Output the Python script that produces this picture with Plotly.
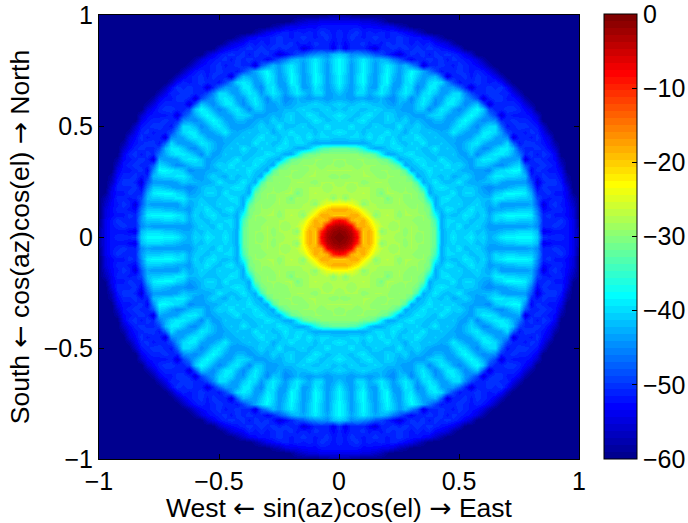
import numpy as np
import plotly.graph_objects as go

# Pattern level in dB at steps of 0.025 in both axes.
# Row i holds x = i*0.025, entries j <= i hold y = j*0.025 (the picture is mirror-symmetric).
# Cells past the end of a row lie outside the disc and take the background level.
background_level = -60
pattern_rows = [
[0],
[-1,-2],
[-3,-4,-7],
[-8,-10,-18,-20],
[-20,-20,-18,-18,-22],
[-18,-18,-20,-22,-25,-28],
[-23,-23,-24,-26,-30,-28,-28],
[-27,-30,-27,-28,-28,-28,-29,-28],
[-28,-28,-28,-28,-27,-28,-29,-31,-28],
[-28,-28,-29,-28,-28,-28,-29,-29,-28,-30],
[-29,-28,-28,-28,-30,-29,-28,-28,-29,-30,-29],
[-29,-30,-29,-29,-28,-28,-29,-30,-29,-29,-30,-30],
[-28,-28,-28,-29,-28,-29,-30,-29,-29,-30,-30,-33,-43],
[-30,-29,-29,-30,-29,-29,-29,-30,-30,-31,-34,-43,-42,-41],
[-29,-29,-30,-29,-29,-30,-30,-31,-32,-37,-43,-42,-41,-39,-40],
[-30,-30,-30,-30,-31,-31,-33,-38,-43,-43,-41,-40,-39,-41,-41,-42],
[-32,-32,-33,-34,-37,-41,-43,-43,-41,-40,-39,-41,-41,-40,-42,-41,-39],
[-43,-43,-43,-43,-43,-42,-40,-40,-41,-39,-41,-42,-40,-41,-39,-42,-42,-41],
[-41,-41,-40,-40,-41,-39,-41,-39,-41,-40,-42,-40,-41,-39,-41,-42,-41,-42,-43],
[-39,-40,-41,-40,-42,-40,-41,-41,-39,-41,-41,-43,-40,-41,-42,-41,-42,-43,-42,-39],
[-41,-41,-39,-41,-41,-42,-40,-41,-42,-42,-39,-42,-42,-40,-42,-43,-44,-44,-44,-41,-39],
[-40,-41,-42,-40,-39,-41,-42,-42,-40,-41,-42,-40,-43,-42,-43,-44,-42,-42,-44,-43,-40,-38],
[-39,-40,-41,-42,-40,-39,-41,-42,-40,-41,-43,-42,-43,-44,-44,-41,-40,-40,-43,-44,-43,-40,-38],
[-41,-42,-40,-41,-42,-41,-40,-41,-42,-42,-43,-44,-44,-41,-41,-45,-42,-39,-40,-43,-45,-43,-40,-38],
[-40,-41,-42,-41,-40,-41,-42,-42,-43,-44,-42,-44,-44,-41,-39,-42,-45,-42,-39,-39,-42,-45,-43,-41,-48],
[-43,-43,-44,-43,-43,-44,-43,-42,-44,-45,-42,-41,-45,-42,-39,-40,-44,-44,-40,-39,-40,-44,-46,-49,-55,-51],
[-41,-43,-44,-40,-40,-43,-41,-39,-41,-44,-41,-39,-41,-44,-40,-39,-41,-44,-43,-40,-40,-45,-49,-51,-51,-50,-50],
[-39,-42,-44,-41,-39,-43,-44,-39,-40,-44,-43,-39,-40,-45,-43,-39,-39,-43,-44,-44,-47,-51,-55,-51,-51,-50,-51,-50],
[-38,-41,-44,-40,-38,-42,-44,-40,-38,-43,-44,-40,-39,-43,-44,-40,-39,-40,-45,-49,-52,-51,-51,-50,-51,-52,-51,-53,-57],
[-38,-41,-44,-40,-38,-42,-44,-40,-38,-42,-44,-40,-38,-41,-44,-43,-42,-47,-55,-51,-51,-50,-52,-50,-51,-52,-54,-57],
[-38,-40,-44,-41,-38,-41,-44,-41,-38,-41,-44,-41,-38,-40,-43,-46,-49,-52,-51,-51,-50,-51,-52,-51,-52,-54,-57],
[-38,-40,-44,-41,-38,-41,-44,-41,-39,-41,-44,-42,-45,-48,-55,-51,-51,-50,-51,-52,-50,-51,-52,-53,-55,-58],
[-38,-40,-43,-41,-39,-41,-43,-42,-43,-46,-48,-51,-53,-51,-51,-50,-51,-50,-52,-50,-51,-52,-53,-55,-58],
[-41,-42,-45,-44,-45,-46,-48,-49,-51,-53,-55,-52,-50,-51,-50,-52,-50,-51,-50,-51,-52,-54,-56],
[-50,-54,-51,-51,-51,-53,-55,-51,-51,-50,-51,-50,-51,-50,-51,-50,-51,-52,-53,-54,-56],
[-51,-53,-51,-51,-50,-52,-51,-52,-50,-51,-50,-51,-52,-51,-52,-51,-53,-54,-55,-58],
[-51,-52,-50,-51,-52,-51,-50,-51,-52,-51,-50,-51,-52,-52,-53,-54,-56,-58],
[-51,-52,-51,-50,-52,-51,-52,-51,-52,-51,-52,-53,-54,-56,-58],
[-52,-52,-52,-52,-53,-53,-53,-54,-54,-55,-57,-58],
[-54,-54,-54,-54,-55,-55,-56,-57,-59],
[-58,-58,-59],
]
axis_ticks = [-1, -0.5, 0, 0.5, 1]
axis_labels = ["\u22121", "\u22120.5", "0", "0.5", "1"]
bar_ticks = [-60, -50, -40, -30, -20, -10, 0]
bar_labels = ["\u221260", "\u221250", "\u221240", "\u221230", "\u221220", "\u221210", "0"]
x_title = "West <span style='font-family:DejaVu Sans'>\u2190</span> sin(az)cos(el) <span style='font-family:DejaVu Sans'>\u2192</span> East"
y_title = "South <span style='font-family:DejaVu Sans'>\u2190</span> cos(az)cos(el) <span style='font-family:DejaVu Sans'>\u2192</span> North"

n = len(pattern_rows)
quadrant = np.full((n, n), float(background_level))
for i, row in enumerate(pattern_rows):
    for j, v in enumerate(row):
        quadrant[i, j] = v
        quadrant[j, i] = v
z = np.vstack([quadrant[:0:-1], quadrant])
z = np.hstack([z[:, :0:-1], z])
coords = [k * 0.025 for k in range(-(n - 1), n)]


def jet(t):
    def f(c):
        return int(round(255 * min(1.0, max(0.0, 1.5 - abs(4 * t - c)))))
    return f"rgb({f(3)},{f(2)},{f(1)})"


levels = 64
colorscale = []
for k in range(levels):
    col = jet((k + 1) / levels)
    colorscale.append([k / levels, col])
    colorscale.append([(k + 1) / levels, col])

W, H = 688, 523
FONT = "Liberation Sans"
fig = go.Figure(go.Heatmap(
    x=coords, y=coords, z=z, zmin=-60, zmax=0, zsmooth="best",
    colorscale=colorscale,
    colorbar=dict(
        x=604 / W, xanchor="left", xpad=0, ypad=0, thickness=33,
        y=1 - 459 / H, yanchor="bottom", lenmode="fraction", len=445 / H,
        tickmode="array", tickvals=bar_ticks, ticktext=bar_labels,
        ticks="inside", ticklen=5, tickcolor="black", tickwidth=1,
        outlinecolor="black", outlinewidth=1, ticklabeloverflow="allow",
        tickfont=dict(family=FONT, size=25, color="black"),
    ),
))
axis = dict(
    range=[-1, 1], tickmode="array", tickvals=axis_ticks, ticktext=axis_labels,
    ticks="inside", ticklen=5, tickcolor="black", tickwidth=1,
    showline=True, linecolor="black", linewidth=1, mirror="allticks",
    showgrid=False, zeroline=False,
    tickfont=dict(family=FONT, size=25, color="black"),
)
fig.update_layout(
    width=W, height=H, margin=dict(l=0, r=0, t=0, b=0, autoexpand=False),
    paper_bgcolor="white", plot_bgcolor="white",
    xaxis=dict(axis, domain=[99 / W, 579 / W],
               title=dict(text=x_title, standoff=1,
                          font=dict(family=FONT, size=26.5, color="black"))),
    yaxis=dict(axis, domain=[1 - 459 / H, 1 - 15 / H],
               title=dict(text=y_title, standoff=6,
                          font=dict(family=FONT, size=26.5, color="black"))),
)
fig.write_html("out.html", post_script="document.body.style.margin='0';",
               config={"displayModeBar": False})
